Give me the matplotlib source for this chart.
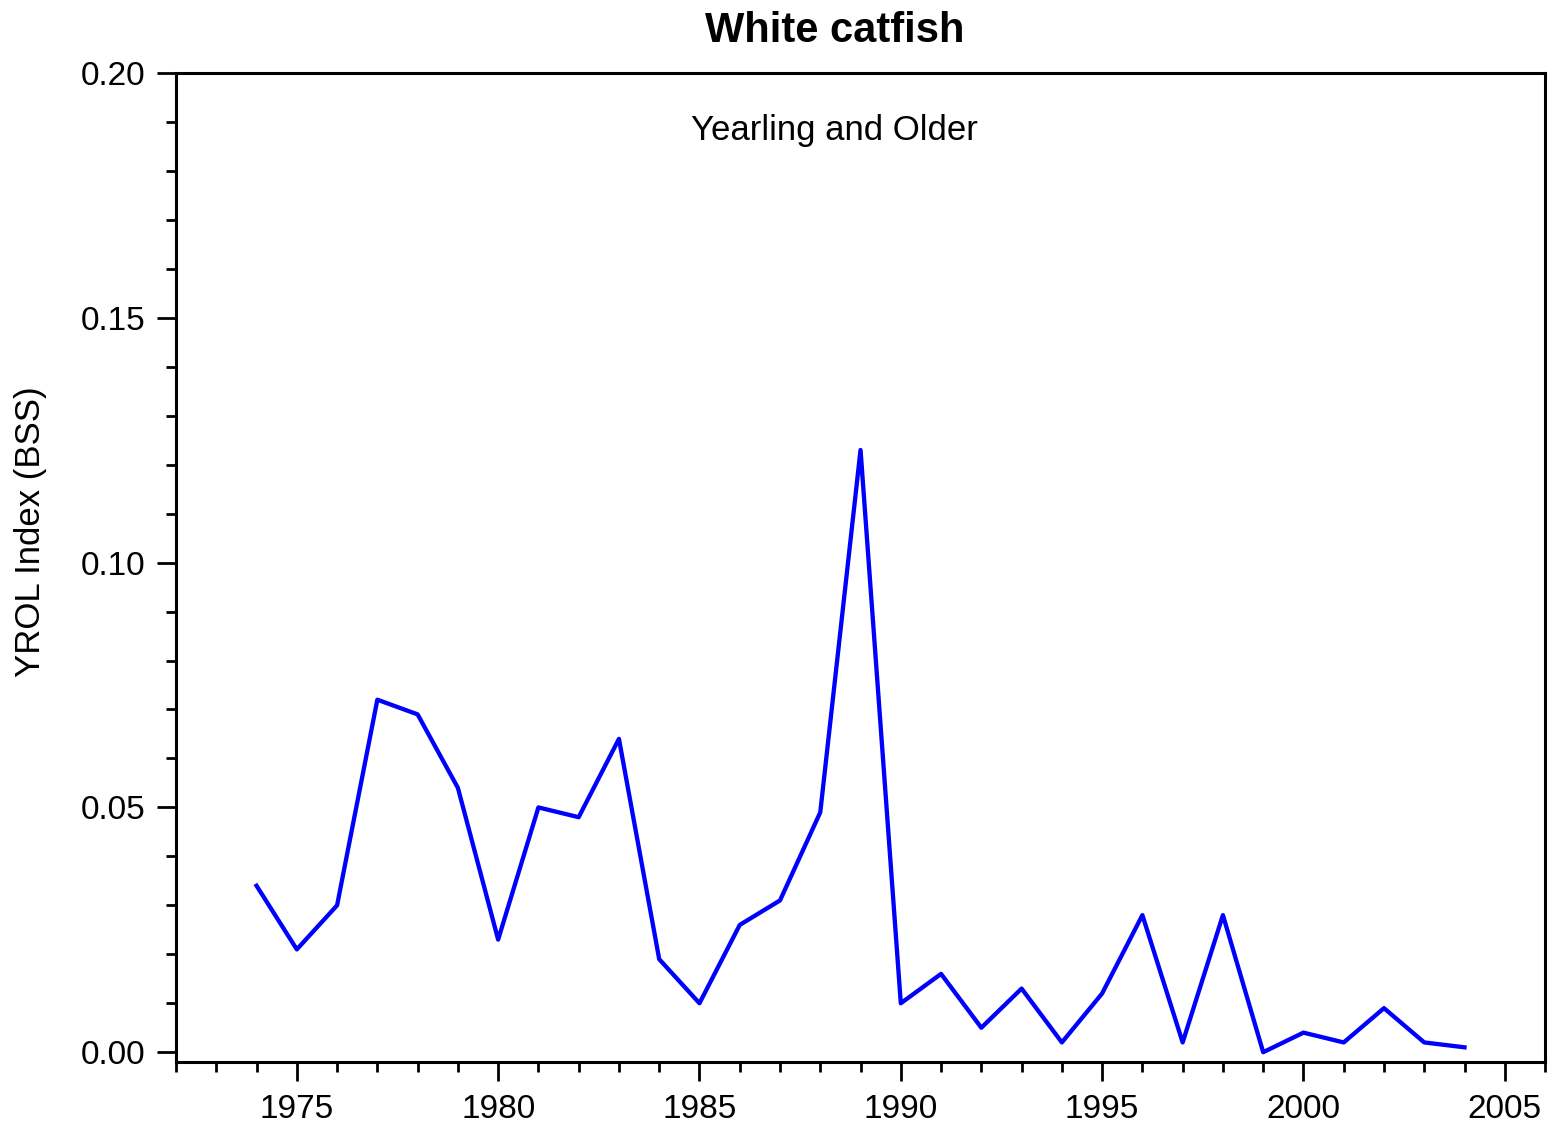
import matplotlib.pyplot as plt
import numpy as np
from matplotlib.ticker import MultipleLocator, FormatStrFormatter

plt.rcParams['font.family'] = ['Liberation Sans', 'DejaVu Sans']

years = np.arange(1974, 2005)
yrol_index = [0.034, 0.021, 0.030, 0.072, 0.069, 0.054, 0.023, 0.050, 0.048, 0.064,
              0.019, 0.010, 0.026, 0.031, 0.049, 0.123, 0.010, 0.016, 0.005, 0.013,
              0.002, 0.012, 0.028, 0.002, 0.028, 0.000, 0.004, 0.002, 0.009, 0.002,
              0.001]

fig = plt.figure(figsize=(15.55, 11.28), dpi=100)
ax = fig.add_axes([0.1132, 0.0585, 0.8804, 0.8768])

ax.plot(years, yrol_index, color='#0000ff', lw=3.1)

ax.set_xlim(1972, 2006)
ax.set_ylim(-0.002, 0.20)

ax.xaxis.set_major_locator(MultipleLocator(5))
ax.xaxis.set_minor_locator(MultipleLocator(1))
ax.yaxis.set_major_locator(MultipleLocator(0.05))
ax.yaxis.set_minor_locator(MultipleLocator(0.01))
ax.yaxis.set_major_formatter(FormatStrFormatter('%.2f'))

ax.tick_params(which='both', direction='out', width=2, top=False, right=False)
ax.tick_params(which='major', length=14, labelsize=24)
ax.tick_params(axis='y', which='major', pad=8)
ax.tick_params(axis='x', which='major', pad=9)
ax.tick_params(which='minor', length=7)

for s in ax.spines.values():
    s.set_linewidth(2.2)

ax.set_title('White catfish', fontsize=30, fontweight='bold', pad=22, x=0.481)
ax.text(0.481, 0.942, 'Yearling and Older', transform=ax.transAxes,
        ha='center', va='center', fontsize=25)
ax.set_ylabel('YROL Index (BSS)', fontsize=25)
ax.yaxis.set_label_coords(-0.094, 0.536)

fig.savefig('out.png', dpi=100)
